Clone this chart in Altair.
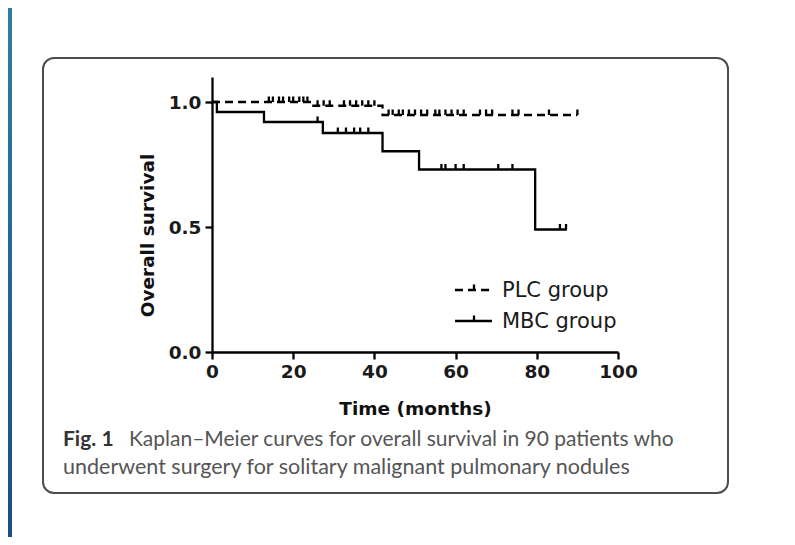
import altair as alt
import pandas as pd

# ---- data ----
plc_t = [0, 24.5, 42, 90]
plc_s = [1.0, 0.985, 0.948, 0.948]
plc_cens = [14, 15, 16.5, 17.5, 19, 20, 21.5, 22.5, 23.5,
            26, 27.5, 29, 32.5, 34, 35.5, 37, 38.5, 40,
            43.5, 44.5, 46, 47, 48.5, 50, 51.5, 53, 55, 56, 57.5, 59, 60.5, 62,
            66, 67.5, 69, 74, 75.5, 83, 90]

mbc_t = [0, 1.2, 12.8, 27.3, 42, 51, 79.6, 87.4]
mbc_s = [1.0, 0.96, 0.92, 0.876, 0.803, 0.73, 0.49, 0.49]
mbc_cens = [26, 31, 33, 35, 36.5, 38.5, 56.5, 57.5, 60, 62, 70.5, 74, 85.7, 87.2]

x_ticks = [0, 20, 40, 60, 80, 100]
y_ticks = [0.0, 0.5, 1.0]

group_names = ["PLC group", "MBC group"]
caption_bold = "Fig. 1"
caption_line1 = "Kaplan\u2013Meier curves for overall survival in 90 patients who"
caption_line2 = "underwent surgery for solitary malignant pulmonary nodules"


def level(ts, ss, t):
    s = ss[0]
    for ti, si in zip(ts, ss):
        if ti <= t:
            s = si
    return s


plc_df = pd.DataFrame({"t": plc_t, "s": plc_s})
mbc_df = pd.DataFrame({"t": mbc_t, "s": mbc_s})
plc_c = pd.DataFrame({"t": plc_cens, "s": [level(plc_t, plc_s, t) for t in plc_cens]})
mbc_c = pd.DataFrame({"t": mbc_cens, "s": [level(mbc_t, mbc_s, t) for t in mbc_cens]})

AX_FONT = "DejaVu Sans"
FS = 18.5
x_scale = alt.Scale(domain=[0, 100], nice=False, zero=True)
y_scale = alt.Scale(domain=[0, 1.1], nice=False)
x_axis = alt.Axis(values=x_ticks, title="Time (months)", grid=False,
                  labelFont=AX_FONT, labelFontSize=FS, labelFontWeight="bold", labelColor="#1a1a1a",
                  titleFont=AX_FONT, titleFontSize=FS, titleFontWeight="bold", titleColor="#111",
                  titleX=203, titleY=56, titleBaseline="middle",
                  domainColor="black", domainWidth=2.3, tickColor="black", tickWidth=2.3, tickSize=7,
                  labelPadding=3, labelFlush=False)
y_axis = alt.Axis(values=y_ticks, format=".1f", title="Overall survival", grid=False,
                  labelFont=AX_FONT, labelFontSize=FS, labelFontWeight="bold", labelColor="#1a1a1a",
                  titleFont=AX_FONT, titleFontSize=FS, titleFontWeight="bold", titleColor="#111",
                  titleX=-65, titleY=158, titleAngle=270, titleAlign="center", titleBaseline="middle",
                  domainColor="black", domainWidth=2.3, tickColor="black", tickWidth=2.3, tickSize=7,
                  labelPadding=4, labelFlush=False)

X = alt.X("t:Q", scale=x_scale, axis=x_axis)
Y = alt.Y("s:Q", scale=y_scale, axis=y_axis)

CENSOR = "M0,-1.1L0,0"

plc_line = alt.Chart(plc_df).mark_line(interpolate="step-after", color="black",
                                       strokeWidth=2.3, strokeDash=[8, 5]).encode(x=X, y=Y)
mbc_line = alt.Chart(mbc_df).mark_line(interpolate="step-after", color="black",
                                       strokeWidth=2.3).encode(x=X, y=Y)
plc_pts = alt.Chart(plc_c).mark_point(shape=CENSOR, size=100, filled=False, stroke="black",
                                      strokeWidth=2.3, opacity=1).encode(x=X, y=Y)
mbc_pts = alt.Chart(mbc_c).mark_point(shape=CENSOR, size=100, filled=False, stroke="black",
                                      strokeWidth=2.3, opacity=1).encode(x=X, y=Y)

one = alt.Data(values=[{}])

# decorations: page-side gradient strip and rounded frame
strip = alt.Chart(one).mark_rect(
    fill=alt.Gradient(gradient="linear",
                      stops=[alt.GradientStop(color="#2b80a0", offset=0),
                             alt.GradientStop(color="#1b4c82", offset=1)],
                      x1=0, x2=0, y1=0, y2=1)
).encode(x=alt.value(-204), x2=alt.value(-200), y=alt.value(-69), y2=alt.value(460))

frame = alt.Chart(one).mark_rect(fillOpacity=0, stroke="#4d4d4d", strokeWidth=2,
                                 cornerRadius=11).encode(
    x=alt.value(-169), x2=alt.value(516), y=alt.value(-19), y2=alt.value(416))

# legend
leg_plc = alt.Chart(one).mark_rule(color="black", strokeWidth=2.3, strokeDash=[8, 5]).encode(
    x=alt.value(243), x2=alt.value(280), y=alt.value(213))
leg_mbc = alt.Chart(one).mark_rule(color="black", strokeWidth=2.3).encode(
    x=alt.value(243), x2=alt.value(280), y=alt.value(244))
leg_ticks = alt.Chart(alt.Data(values=[{"yy": 213}, {"yy": 244}])).mark_point(
    shape=CENSOR, size=100, filled=False, stroke="black", strokeWidth=2.3, opacity=1).encode(
    x=alt.value(262), y=alt.Y("yy:Q", scale=None, axis=None))
leg_txt1 = alt.Chart(one).mark_text(text=group_names[0], font=AX_FONT, fontSize=21, align="left",
                                    baseline="alphabetic", color="#1a1a1a").encode(
    x=alt.value(290), y=alt.value(220))
leg_txt2 = alt.Chart(one).mark_text(text=group_names[1], font=AX_FONT, fontSize=21, align="left",
                                    baseline="alphabetic", color="#1a1a1a").encode(
    x=alt.value(290), y=alt.value(251))

# caption
cap_font = "Lato"
cap_b = alt.Chart(one).mark_text(text=caption_bold, font=cap_font, fontSize=21, fontWeight="bold",
                                 align="left", baseline="alphabetic", color="#333333").encode(
    x=alt.value(-149), y=alt.value(369))
cap_1 = alt.Chart(one).mark_text(text=caption_line1, font=cap_font, fontSize=21, align="left",
                                 baseline="alphabetic", color="#555555").encode(
    x=alt.value(-83), y=alt.value(369))
cap_2 = alt.Chart(one).mark_text(text=caption_line2, font=cap_font, fontSize=21.5, align="left",
                                 baseline="alphabetic", color="#555555").encode(
    x=alt.value(-149), y=alt.value(397))

chart = alt.layer(
    strip, frame, plc_line, mbc_line, plc_pts, mbc_pts,
    leg_plc, leg_mbc, leg_ticks, leg_txt1, leg_txt2, cap_b, cap_1, cap_2
).properties(
    width=406, height=275,
    padding={"left": 204, "top": 69, "right": 169, "bottom": 185},
    autosize=alt.AutoSizeParams(type="none"),
    background="white",
).configure_view(stroke=None)

chart.save("out.html", embed_options={"renderer": "svg", "actions": False})
